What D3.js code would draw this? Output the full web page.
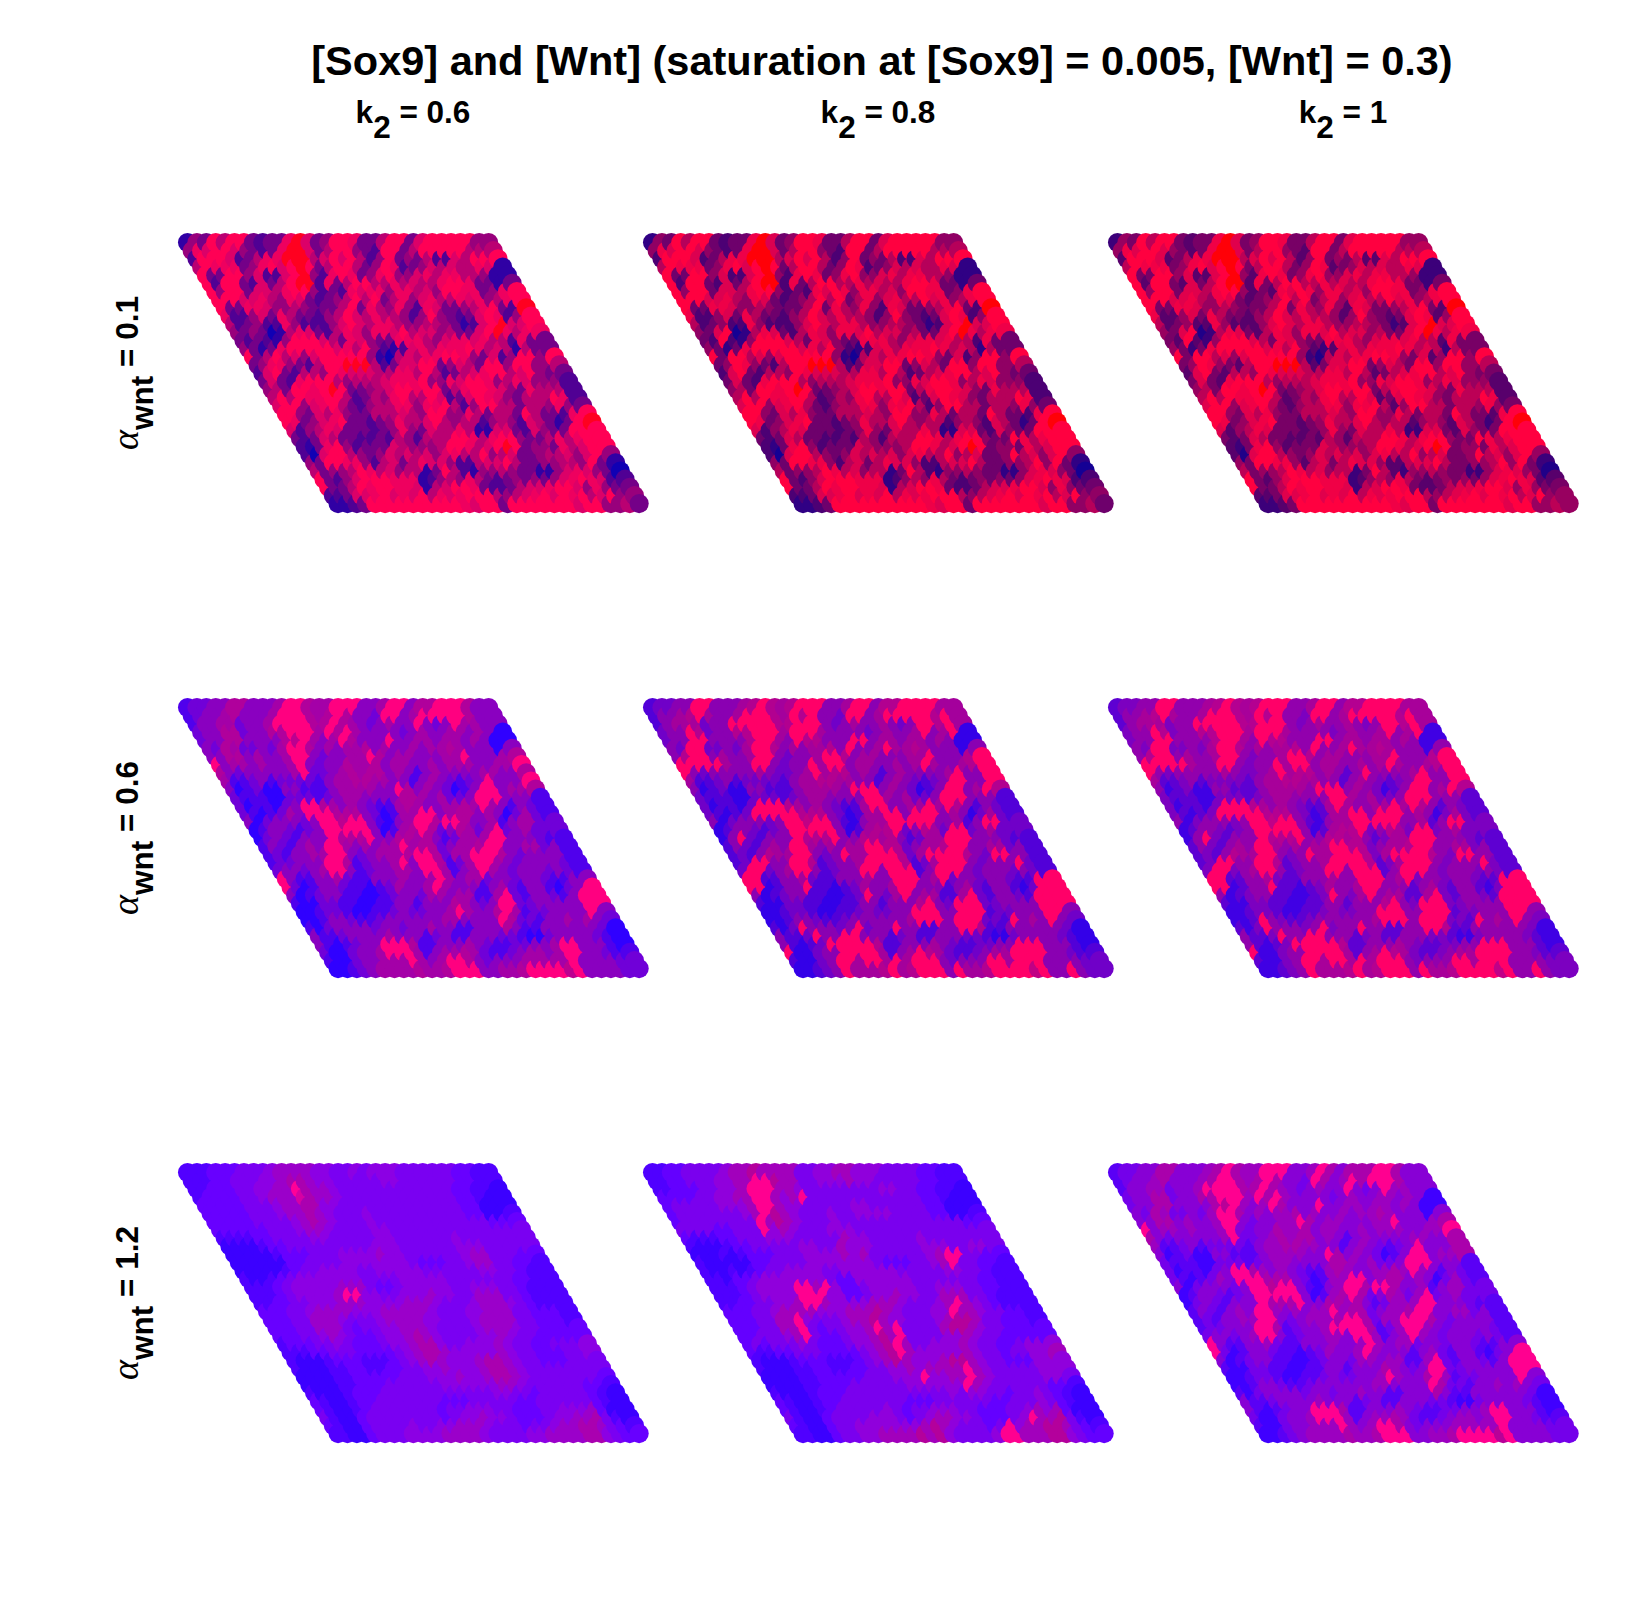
<!DOCTYPE html>
<html><head><meta charset="utf-8"><style>html,body{margin:0;background:#fff}svg{display:block}</style>
<script src="https://cdn.jsdelivr.net/npm/d3@7"></script></head><body><svg id="c" width="1642" height="1604"></svg>
<script>
// Row and column parameters of the 3x3 panel layout
const kLabels=["0.6","0.8","1"];
const alphaLabels=["0.1","0.6","1.2"];
// Cell levels, one string per lattice row, 0 = all Wnt (blue) up to 9 = all Sox9 (red)
const a01k06=[
"143858832337963488733588368888844","476886432379963588432883588888555","288862357799956868524834352265888",
"587773478689835885348723465655761","833884622689427873478446757755411","828832635899273588557565578873313",
"848836657884232767747756488773478","888667547632345858357467557674578","833776445433358375474276334578329",
"722463753324586575542484323687248","523422742224686577544554312689668","434301576325764776856645336897577",
"323214888653764337775467767552733","431378888867584212675777875651533","835856468888841056577887436248848",
"347743258899952366883465388488445","268325548766655775852356788568433","363278885455567778447688745764442",
"453887898334568878835788764375552","585877885235478558623687643555872","688467853245577477852488553554743",
"884365743355565488447535538533278","873467833234755685455245426531389","624576333234743655751166326433888",
"323653322325425558875788433575788","213784233365444588756898344375688","206885434656564675584563345564684",
"438877425635766422566853344554831","534458756455138521445433114676430","832468887771245475323434346787622",
"833587887761568873223566788647433","223667867685767888545678687856844","112388888888887688388888886884453"];
const a01k08=[
"143858832337963488733588368888844","476886432379963588432883588888555","288862357799956868524834352265888",
"587773478689835885348723465655761","833884622689427873478446757755411","828832635899273588557565578873313",
"848836657884232768747756488773478","888667547632345858357467558674578","833776445433358375474276334578329",
"722463753324586575542484323687248","523422742224686577544554312689668","436801576325764776856645336897577",
"328214888653764337775467767552733","431378888867584212675777875651533","838856468888841056577887436248848",
"348743258899952366883465388488445","268325548766655775852356788568433","363278885455567778447688745764442",
"453887898334568878835788764375552","585877885235478558623687643555872","688467853245577477852488553554743",
"884365743355565488447535538533278","873467833234755685455245426531389","624576333234743655751166326433888",
"323653322325425558875788433875788","213784233365444588756898344375688","206885434656564675584563348564684",
"438877425635766422566853344584831","534458756455138521445433114676430","832468887771245475323434346787622",
"833587887761568873223566788647433","223667867685767888545678687856844","112388888888887688388888886884453"];
const a01k10=[
"143858832337963488733588368888844","476886432379963588432883588888555","288862357799956868524834352265888",
"587773478689835885348723465655761","833884622689427873478446757755411","828832635899273588557565578873313",
"848836657884232768747756488773478","888667547632345858357467558674578","833776445433358375474276334578329",
"722463753324586575542484323687248","523422742224686577544554312689668","436801576325764776856645336897577",
"328214888653764337775467767552733","431378888867584212675777875651533","838856468888841056577887436248848",
"348743258899952366883465388488445","268325548766655775852356788568433","363278885455567778447688745764442",
"453887898334568878835788764375552","585877885235478558623687643555872","688467853245577477852488553554743",
"884365743355565488447535538533278","873467833234755685455245426531389","624576333234743655751166326433888",
"323653322325425558875788433875788","213784233365444588756898344375688","206885434656564675584563348564684",
"438877425635766422566853344584831","534458756455138521445433114676430","832468887771245475323434346787622",
"833587887761568873223566788647433","223667867685767888545678687856844","112388888888887688388888886884454"];
const a06k06=[
"122335533348854488833488355888533","123345333488854585332883488888533","133442334888855854323433832384433",
"233552335588848584333323433443430","233553333568434853338334434434300","325422324885343445343343445433303",
"335534334883233448534433344833345","834434334832335445344334344433448","532333334822345455343134333344335",
"411231222213445544331343212383338","301200331113444433853432013883445","211100222123443333554342238883331",
"201102388543432114543344548431321","210124388855532014488345534302421","302333238868831034885885334134422",
"013321238888830145852354248234222","023213338555833554531244488333211","132134388434344845523445883344231",
"121334488323444588524488853233331","122333885123348388512488432333321","233234883123344388413484323332321",
"831133421133343348434423323321133","820133211012433484333134213310238","301233110012332443441148213321388",
"100221100113313335432388223333388","001221001123223348433584122333383","001332112333333443333852213343432",
"102333323323343311333531133333320","311233334333123113332210023333210","310123388851133343211223348833310",
"200233488841344542112344348833211","100233444843488532333444448333322","001234444544588833445888868333322"];
const a06k08=[
"122338833345854588833488355888844","133458433488854858332883488888584","134442338888855888323433432388584",
"233852335588848884333323433483480","233883333588438553338834434434300","328822324885343445383348445433303",
"358834334883233488534433344833358","888884338832338488344334348433458","832333334322348455343134333348338",
"411231222213445544331343212388338","301200331113444438883432013883485","211100222123443333884342238883331",
"201102888543432114883344848531321","210128888855532014488388834302421","302333238868831034488888334138822",
"013321238888830145582354288234222","038213338555833554531244888333211","132134388434344885523445883344231",
"121354488323844888524888853288331","128833885123348888512488832333821","288234883123388388813888323332321",
"881133421133343388834823323321188","880133811012433488333134213310288","301233110012832483441148213321888",
"100221100113313335832888223333888","001221001123223388833888122333883","001332112333333488838882218343832",
"102833323823383311338851133333320","311283388333123113332210023333210","310128888851133343211223388833310",
"800233888841348542112344888833211","100238848848488832333884888333322","001238444584588838445888868338322"];
const a06k10=[
"122338833345854588833488355888844","133458433488854858332883488888584","134442338888855888323433432388584",
"233852335588848884333323433483480","233883333588438553338834434434300","328822324885343445383348445433303",
"358834334883233488534433344833358","888884338832338488344334348433458","832333334322348455343138333348338",
"411231222213445544331343212388338","301200331113444438883432013883485","211100222123443333884342238883331",
"201102888543432114843344848531321","210128888855532014488388834302421","302333238868831034488888334138822",
"013321238888830145582354288234222","038213338555833554531244888333211","132134388434344885523445883344231",
"121354488323844888524888853288331","128833885123348888512488832333821","288234883123388388813888323332321",
"881133421133343388834823323321188","880133811012433488333134213310288","301233110012832483441148213321888",
"100221100113313335832888223333888","001221001123223388833888122333883","001832112333333488838882218343832",
"102833323823383311338851133333320","311283388333123113332210023333210","310128888851133343211223388833310",
"800233888841348542112344888833211","100238848848488832333884888333322","001238444584588838445888868338322"];
const a12k06=[
"111222333455554433434443333332211","111223334456654433333443333332211","112223344558655433333333333322110",
"122223345557655433333333333322100","222223334556644333333333333322000","222223334556543334333333333322001",
"222223333456543334333333333333222","222222333455433334433333333333333","111122333344333334433333343333333",
"000012233333333344433333344433333","000001222333444454433333345533322","000000223333444444432223345533221",
"000001233444433444443333334433211","100123444444433334444433333332211","111234444455532234444433444332111",
"111234444588443344454433555332111","112233444555444455543334555432111","222334555544455555433344555332221",
"222335554333455554433345555332221","222335553233445554333345554332222","222334543223445654333344543322222",
"122233432223445664334445433223334","111223332222345665444445433222334","100012221112345654445665433222333",
"100011221122334454445665433333333","000011222223334445445665433333332","000011222333333444444554333333221",
"100012223333333333334433233333210","210012233333332223333322333333210","210012333333323344433222334445200",
"310023333333323445443222344556310","210023333433445554333233455665321","110023334444555543333445555664322"];
const a12k08=[
"112233334556555533445544433332211","112233344558865533444544333332211","112223344588855433333333443322110",
"222233445588545833333333333322100","233333444588544333334433333322000","233333334586543334334444333322001",
"233333333856543334333333333333322","333322333845433344433333333333333","211122333444333335443333343333333",
"100012233333443354443333344433443","000101222333444454533333345883322","100000223333444444432223345833221",
"100101233444433444444333334433211","110223444444432244444433333332211","111234444885842234444433444332211",
"111234444888442234454433555332111","112233445885444455543334585432111","222334555544455565433344855433221",
"222335584333455654433345665332221","222335583233445858333356654332222","223334583223445658333344543322222",
"232333432223445685334445433223444","211223332222345685444445433233445","100012221112345654445665433222444",
"100011221122334454555585433333444","000011222223334448445585433333443","000011222333333444444854333333221",
"100012223333333333343443323343210","210012233333332223333332233343210","210012333334323344433222334545200",
"310023333444323455443222348556310","210023344444445654333238455665321","110023344555565643333488555664322"];
const a12k10=[
"122335533345854488833485355588533","123345333458854585332853485888533","133442334888855854323433832384433",
"233552335588848584333323433443430","233553333568434853338334434434300","325422324885343445343343445433303",
"335534334883233448534433344833345","834434334832335445344334344433448","532333334822345455343134333344335",
"411231222213445544331343212383335","301200331113444433853432013883445","211100222123443333554342238883331",
"201102388543432114543344548431321","210124388855532014488345534302421","302333238868831034885885334134422",
"013321238888830145852354248234222","023213338555833554531244488333211","132134388434344845523445883344231",
"121334488323444588524488853233331","122333885123348888512488432333321","233234883123344388413484323332321",
"831133421133343348434423323321133","820133211012433484333134213310238","301233110012332443441148213321388",
"100221100113313335432388223333388","001221001123223348433584122333383","001332112333333443333852213343432",
"102333323323343311333531133333320","311233334333123113332210023333210","310123388851133343211223348833310",
"200233488841344542112344348833211","100233444843488532333444448333322","001234444544588833445888868333322"];
const panelLevels=[[a01k06,a01k08,a01k10],[a06k06,a06k08,a06k10],[a12k06,a12k08,a12k10]];
// Colour stops per panel at levels 0, 2, 4, 6, 8, 9
const levelStops=[0,2,4,6,8,9];
const colours01=[["#1000b4","#500094","#98007c","#dc0068","#ff0055","#ff0020"],["#140094","#4c0074","#900064","#dc0050","#ff0040","#ff0008"],["#200088","#58006c","#980060","#e0004c","#ff0040","#ff0008"]];
const colours06=[["#3000ff","#7000d8","#a400a8","#bc0090","#ff0080","#ff0060"],["#3400e8","#7000c8","#a4009c","#c00084","#ff0068","#ff0048"],["#4000e4","#7c00c0","#a8009a","#c00088","#ff0068","#ff0048"]];
const colours12=[["#3c00ff","#6800ff","#8c00e4","#aa00b0","#ff0098","#ff0070"],["#3c00ff","#6400ff","#9000dc","#b4009c","#ff0090","#ff0070"],["#4000ff","#7400ea","#9c00c0","#b80098","#ff0090","#ff0070"]];
const panelColours=[colours01,colours06,colours12];

const svg=d3.select("#c");
const panelStep=465,radius=9.55,originX=187.5,originY=242.5,nCells=33;
const xScale=d3.scaleLinear().domain([0,1]).range([0,9.41]);
const yScale=d3.scaleLinear().domain([0,1]).range([0,8.16]);
const font="'Liberation Sans',Arial,sans-serif";

panelLevels.forEach((rowPanels,ri)=>{
  rowPanels.forEach((grid,ci)=>{
    const colour=d3.scaleLinear().domain(levelStops).range(panelColours[ri][ci]);
    // Columns are painted left to right, each from its top cell down
    const cells=[];
    d3.range(nCells).forEach(j=>d3.range(nCells).forEach(i=>cells.push({i,j,v:+grid[i][j]})));
    svg.append("g").attr("transform",`translate(${originX+ci*panelStep},${originY+ri*panelStep})`)
      .selectAll("circle").data(cells).join("circle")
      .attr("cx",d=>xScale(d.j+d.i/2)).attr("cy",d=>yScale(d.i)).attr("r",radius).attr("fill",d=>colour(d.v));
  });
});

svg.append("text").attr("x",882).attr("y",75).attr("text-anchor","middle")
  .attr("font-family",font).attr("font-weight","bold").attr("font-size",41.5)
  .text("[Sox9] and [Wnt] (saturation at [Sox9] = 0.005, [Wnt] = 0.3)");

kLabels.forEach((k,ci)=>{
  const t=svg.append("text").attr("x",413+ci*panelStep).attr("y",123).attr("text-anchor","middle")
    .attr("font-family",font).attr("font-weight","bold").attr("font-size",31.5);
  t.append("tspan").text("k");
  t.append("tspan").attr("dy",15).text("2");
  t.append("tspan").attr("dy",-15).text(" = "+k);
});

alphaLabels.forEach((a,ri)=>{
  const t=svg.append("text").attr("transform",`translate(138,${373+ri*panelStep}) rotate(-90)`).attr("text-anchor","middle")
    .attr("font-family",font).attr("font-weight","bold").attr("font-size",31.5);
  t.append("tspan").attr("font-family","'Liberation Serif',serif").attr("font-style","italic").attr("font-weight","normal").attr("font-size",38).text("α");
  t.append("tspan").attr("dy",15).text("wnt");
  t.append("tspan").attr("dy",-15).text(" = "+a);
});
</script></body></html>
